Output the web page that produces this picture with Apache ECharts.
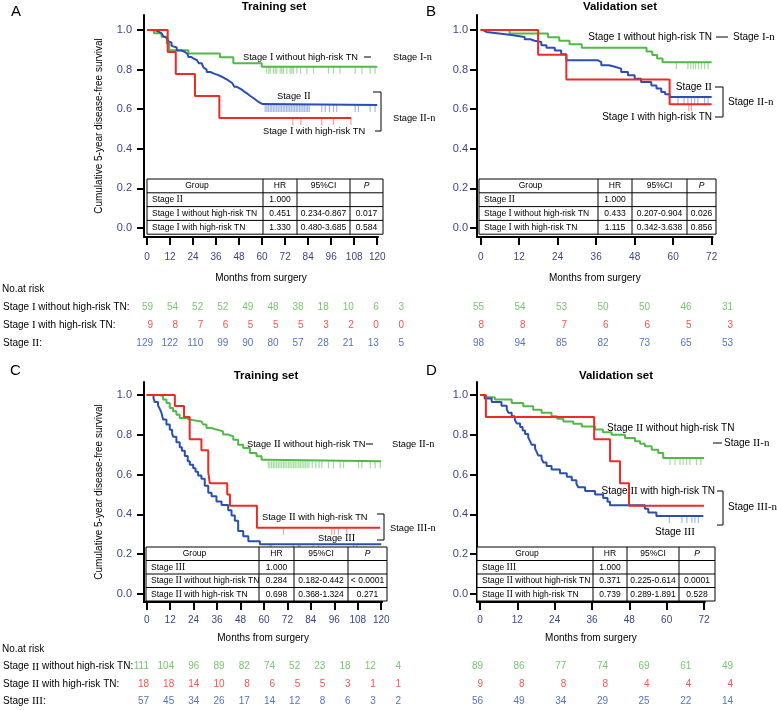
<!DOCTYPE html>
<html><head><meta charset="utf-8">
<script src="https://cdn.jsdelivr.net/npm/echarts@6/dist/echarts.min.js"></script>
<style>html,body{margin:0;padding:0;background:#fff}#c{width:777px;height:710px}</style>
</head><body><div id="c"></div>
<script>
const FONT = 'Liberation Sans, Arial, sans-serif';
const SERIF = 'Liberation Serif, Times New Roman, serif';
const GREEN = '#52b848', RED = '#ee2a24', BLUE = '#2b4fae';
const GREEN_L = '#8fd486', RED_L = '#f58a86', BLUE_L = '#8fa6de';
const AXIS_C = '#38458a';

// ---------- shared labels ----------
const titles = ['Training set', 'Validation set', 'Training set', 'Validation set'];
const letters = ['A', 'B', 'C', 'D'];
const ticksLong = [0, 12, 24, 36, 48, 60, 72, 84, 96, 108, 120];
const ticksShort = [0, 12, 24, 36, 48, 60, 72];
const yTicks = [0, 0.2, 0.4, 0.6, 0.8, 1.0];
const yTitle = 'Cumulative 5-year disease-free survival';
const xTitle = 'Months from surgery';

// ---------- Panel A (training, stage I/II) ----------
const A_green = [[0,1],[3.6,0.983],[7.6,0.966],[10.3,0.932],[11.6,0.898],[21.6,0.881],[38,0.863],[45,0.832],[59.8,0.815],[120,0.815]];
const A_red = [[0,1],[10.8,0.889],[15,0.778],[25,0.667],[37.7,0.556],[106.3,0.556]];
const A_blue = [[0,1],[4,0.992],[6,0.984],[7.5,0.976],[8.5,0.968],[9.5,0.96],[10.3,0.952],[11,0.944],[12,0.936],[12.8,0.92],[13.7,0.912],[15.5,0.897],[18,0.889],[19.8,0.88],[21,0.872],[21.6,0.864],[23,0.856],[24.2,0.848],[26,0.84],[27,0.832],[28.5,0.824],[29.5,0.81],[30.3,0.8],[31.1,0.788],[33,0.78],[35,0.772],[37.2,0.764],[39,0.756],[40.5,0.748],[42,0.74],[43.2,0.731],[44.5,0.722],[45.5,0.713],[46.8,0.704],[48.5,0.695],[50,0.686],[51.1,0.677],[52.5,0.668],[53.7,0.659],[55,0.65],[56.3,0.641],[57.5,0.632],[59,0.626],[60.3,0.621],[120,0.621]];
const A_greenCens = [62.4,63.5,64.2,65.9,66.8,67.6,69.4,70.3,71.1,72.9,74.6,75.5,76.3,78.1,80,83.3,86.8,94.6,97.2,100.6,108.5,112,116.3,118.9];
const A_redCens = [76,80.2,91.1,97.2,106.3];
const A_blueCens = [61.6,62.5,63.3,64.2,65,65.9,66.7,67.6,68.4,69.3,70.1,71,71.8,72.7,73.5,74.4,75.2,76.1,76.9,77.8,78.6,79.5,80.3,81.2,82,82.9,83.7,84.6,91.1,92.9,95.1,97.2,98.9,108.5,110.2,116.3,118.9];
const A_riskGreen = [59,54,52,52,49,48,38,18,10,6,3];
const A_riskRed = [9,8,7,6,5,5,5,3,2,0,0];
const A_riskBlue = [129,122,110,99,90,80,57,28,21,13,5];
const A_rowNames = ['Stage I without high-risk TN:', 'Stage I with high-risk TN:', 'Stage II:'];
const A_table = [['Group','HR','95%CI','P'],['Stage II','1.000','',''],['Stage I without high-risk TN','0.451','0.234-0.867','0.017'],['Stage I with high-risk TN','1.330','0.480-3.685','0.584']];

// ---------- Panel B (validation, stage I/II) ----------
const B_green = [[0,1],[9,0.982],[21,0.964],[24.5,0.946],[27.7,0.928],[31.5,0.91],[51.7,0.892],[53.5,0.874],[55,0.856],[56.7,0.837],[72,0.837]];
const B_red = [[0,1],[17.9,0.875],[26.7,0.75],[58.9,0.625],[72,0.625]];
const B_blue = [[0,1],[0.7,0.99],[1.8,0.985],[4.4,0.975],[9.6,0.965],[13.7,0.953],[15.5,0.946],[16.8,0.939],[18.9,0.923],[20.5,0.91],[23.1,0.897],[25.1,0.877],[26.7,0.847],[36.6,0.838],[37.6,0.822],[40,0.814],[41.8,0.805],[43.8,0.788],[45.9,0.771],[48,0.754],[50,0.737],[53.2,0.72],[54.8,0.704],[56.3,0.687],[57.5,0.675],[58.9,0.662],[72,0.662]];
const B_greenCens = [61,64.6,65.5,66.3,67,67.9,68.8,69.8,70.9];
const B_redCens = [64.9,65.7];
const B_blueCens = [61.5,63.4,64.6,65.7,66.7,67.7,69.8,70.9];
const B_riskGreen = [55,54,53,50,50,46,31];
const B_riskRed = [8,8,7,6,6,5,3];
const B_riskBlue = [98,94,85,82,73,65,53];
const B_table = [['Group','HR','95%CI','P'],['Stage II','1.000','',''],['Stage I without high-risk TN','0.433','0.207-0.904','0.026'],['Stage I with high-risk TN','1.115','0.342-3.638','0.856']];

// ---------- Panel C (training, stage II/III) ----------
const C_green = [[0,1],[6.7,0.993],[8.4,0.977],[10.1,0.96],[11.8,0.935],[13.5,0.918],[15.2,0.901],[16.9,0.884],[20.3,0.876],[22.1,0.867],[28,0.862],[28.9,0.851],[30.6,0.834],[33.2,0.826],[35.7,0.817],[39.1,0.801],[41.7,0.792],[44.3,0.775],[46.8,0.75],[49.4,0.733],[52.8,0.708],[56.2,0.692],[58.8,0.675],[61.4,0.667],[120,0.667]];
const C_red = [[0,1],[14.4,0.944],[19.1,0.889],[22,0.778],[28,0.722],[31.5,0.611],[32.3,0.556],[41.2,0.5],[42.6,0.444],[56.4,0.333],[119.5,0.333]];
const C_blue = [[0,1],[3.5,0.982],[4.1,0.965],[5.8,0.947],[6.7,0.93],[7.5,0.912],[8.4,0.877],[10.1,0.851],[11.8,0.825],[13,0.807],[13.5,0.79],[15.2,0.763],[16.9,0.737],[18,0.72],[19.5,0.693],[21,0.667],[22.1,0.649],[23.8,0.632],[25,0.614],[26.3,0.596],[28,0.579],[29.7,0.544],[31.5,0.509],[33.2,0.491],[35.7,0.465],[38.3,0.447],[41.7,0.421],[43.4,0.395],[45.1,0.368],[46.8,0.316],[49.4,0.29],[52,0.265],[57.9,0.25],[120,0.25]];
const C_greenCens = [62.2,63,63.9,64.8,65.6,66.5,67.4,68.2,69.1,70,70.8,71.7,72.6,73.4,74.3,75.2,76,76.9,77.8,78.6,79.5,80.4,81.2,82.1,83,84.7,86.5,88.2,89.6,93,95.6,99,100.7,108.4,110.1,114.4,116.9,119.5];
const C_redCens = [70,94.7,96,98.1,102.4];
const C_blueCens = [63.1,63.9,75,77.6,78.5,85.3,87.9,105.8,107.5];
const C_riskGreen = [111,104,96,89,82,74,52,23,18,12,4];
const C_riskRed = [18,18,14,10,8,6,5,5,3,1,1];
const C_riskBlue = [57,45,34,26,17,14,12,8,6,3,2];
const C_rowNames = ['Stage II without high-risk TN:', 'Stage II with high-risk TN:', 'Stage III:'];
const C_table = [['Group','HR','95%CI','P'],['Stage III','1.000','',''],['Stage II without high-risk TN','0.284','0.182-0.442','< 0.0001'],['Stage II with high-risk TN','0.698','0.368-1.324','0.271']];

// ---------- Panel D (validation, stage II/III) ----------
const D_green = [[0,1],[1.5,0.989],[4.8,0.977],[10.2,0.96],[13.9,0.943],[17.1,0.926],[19.8,0.91],[23,0.893],[24.8,0.88],[26.8,0.867],[30,0.855],[32.7,0.842],[37,0.826],[39.5,0.813],[42.3,0.8],[46.6,0.784],[49.8,0.767],[51.5,0.755],[53,0.742],[55.2,0.725],[57.3,0.708],[58.9,0.683],[72,0.683]];
const D_red = [[0,1],[1.9,0.889],[36.7,0.778],[41.8,0.667],[45,0.556],[47.9,0.444],[72,0.444]];
const D_blue = [[0,1],[1.5,0.982],[3.75,0.964],[6.9,0.946],[8.6,0.929],[9.1,0.911],[10.2,0.893],[11.2,0.875],[11.8,0.857],[12.9,0.839],[13.7,0.821],[14.5,0.804],[15.5,0.786],[16.1,0.768],[16.6,0.75],[17.7,0.732],[18.2,0.714],[18.7,0.696],[19.8,0.679],[20.4,0.661],[21.4,0.643],[23,0.625],[25.7,0.607],[27.9,0.589],[29.5,0.571],[31,0.554],[31.6,0.536],[33.8,0.518],[37,0.5],[39.6,0.482],[41,0.464],[41.8,0.446],[53,0.428],[54.1,0.41],[56.7,0.392],[71.8,0.392]];
const D_greenCens = [61.1,62.7,64.3,65.3,66.4,67.5,69.6,71];
const D_redCens = [];
const D_blueCens = [60.9,64.9,66.5,68.1,69.1,70.2];
const D_riskGreen = [89,86,77,74,69,61,49];
const D_riskRed = [9,8,8,8,4,4,4];
const D_riskBlue = [56,49,34,29,25,22,14];
const D_table = [['Group','HR','95%CI','P'],['Stage III','1.000','',''],['Stage II without high-risk TN','0.371','0.225-0.614','0.0001'],['Stage II with high-risk TN','0.739','0.289-1.891','0.528']];

// ---------- layout ----------
const panels = [
  {grid:{left:144,top:15,width:234,height:222}, xr:[-1.56,120.4], yr:[-0.0455,1.0758], ticks:ticksLong, yName:true, yLabMargin:12, xLabMargin:15, xNameGap:36,
   risk:{left:152,top:298,width:252,height:54}, rowNames:A_rowNames,
   curves:[[A_green,GREEN,A_greenCens,GREEN_L],[A_blue,BLUE,A_blueCens,BLUE_L],[A_red,RED,A_redCens,RED_L]],
   riskRows:[A_riskGreen,A_riskRed,A_riskBlue]},
  {grid:{left:477,top:15,width:235.6,height:222}, xr:[-1.15,72.3], yr:[-0.0455,1.0758], ticks:ticksShort, yName:false, yLabMargin:9, xLabMargin:15, xNameGap:36,
   risk:{left:484,top:298,width:249,height:54}, rowNames:null,
   curves:[[B_green,GREEN,B_greenCens,GREEN_L],[B_blue,BLUE,B_blueCens,BLUE_L],[B_red,RED,B_redCens,RED_L]],
   riskRows:[B_riskGreen,B_riskRed,B_riskBlue]},
  {grid:{left:144,top:382,width:238.2,height:220}, xr:[-1.38,120.5], yr:[-0.04,1.065], ticks:ticksLong, yName:true, yLabMargin:12, xLabMargin:13, xNameGap:31,
   risk:{left:148,top:658,width:253,height:54}, rowNames:C_rowNames,
   curves:[[C_green,GREEN,C_greenCens,GREEN_L],[C_blue,BLUE,C_blueCens,BLUE_L],[C_red,RED,C_redCens,RED_L]],
   riskRows:[C_riskGreen,C_riskRed,C_riskBlue]},
  {grid:{left:477,top:382,width:227.9,height:220}, xr:[-0.96,72.3], yr:[-0.04,1.065], ticks:ticksShort, yName:false, yLabMargin:9, xLabMargin:13, xNameGap:31,
   risk:{left:483,top:658,width:250,height:54}, rowNames:null,
   curves:[[D_green,GREEN,D_greenCens,GREEN_L],[D_blue,BLUE,D_blueCens,BLUE_L],[D_red,RED,D_redCens,RED_L]],
   riskRows:[D_riskGreen,D_riskRed,D_riskBlue]}
];
const riskColors = [GREEN, RED, BLUE];

function R(s){ return String(s).replace(/Stage (I{1,3})(-n)?/g, (m,a,b)=>'Stage {r|'+a+(b||'')+'}'); }
function stepVal(curve, t){ let v = curve[0][1]; for (const p of curve){ if (p[0] <= t) v = p[1]; } return v; }

const grids = [], xAxes = [], yAxes = [], series = [];
panels.forEach((p, i) => {
  grids.push(Object.assign({containLabel:false}, p.grid));
  xAxes.push({gridIndex:i, type:'value', min:p.xr[0], max:p.xr[1],
    axisLine:{show:true,onZero:false,lineStyle:{color:'#000',width:2}},
    axisTick:{show:true,length:8,customValues:p.ticks,lineStyle:{color:'#000',width:2}},
    axisLabel:{customValues:p.ticks,color:AXIS_C,fontSize:10,margin:p.xLabMargin,fontFamily:FONT},
    splitLine:{show:false},
    name:xTitle, nameLocation:'middle', nameGap:p.xNameGap, nameTextStyle:{color:'#000',fontSize:10,fontFamily:FONT}});
  yAxes.push({gridIndex:i, type:'value', min:p.yr[0], max:p.yr[1],
    axisLine:{show:true,onZero:false,lineStyle:{color:'#000',width:2}},
    axisTick:{show:true,length:7,customValues:yTicks,lineStyle:{color:'#000',width:2}},
    axisLabel:{customValues:yTicks,formatter:v=>Number(v).toFixed(1),color:AXIS_C,fontSize:11,margin:p.yLabMargin,fontFamily:FONT},
    splitLine:{show:false},
    name:p.yName?yTitle:'', nameLocation:'middle', nameRotate:90, nameGap:40, nameTextStyle:{color:'#000',fontSize:10,fontFamily:FONT}});
  p.curves.forEach(([curve,color,cens,lc]) => {
    series.push({type:'line', xAxisIndex:i, yAxisIndex:i, data:curve, step:'end', showSymbol:false, symbol:'none', lineStyle:{color:color,width:2}, z:3, silent:true});
    if (cens.length) series.push({type:'scatter', xAxisIndex:i, yAxisIndex:i, data:cens.map(t=>[t, stepVal(curve,t)]), symbol:'rect', symbolSize:[1.2,7], symbolOffset:[0,3.5], itemStyle:{color:lc}, z:2, silent:true});
  });
});
// risk tables (hidden axes)
panels.forEach((p, i) => {
  const gi = i + 4;
  const n = p.riskRows[0].length;
  grids.push(Object.assign({containLabel:false}, p.risk));
  xAxes.push({gridIndex:gi, type:'value', min:0, max:n-1, show:false});
  yAxes.push({gridIndex:gi, type:'category', inverse:true, data:p.rowNames || ['r0','r1','r2'],
    axisLine:{show:false}, axisTick:{show:false}, splitLine:{show:false},
    axisLabel:{show:!!p.rowNames, align:'left', margin:p.risk.left-2, color:'#000', fontSize:10, fontFamily:FONT,
      formatter:v=>R(v), rich:{r:{fontFamily:SERIF,fontSize:11,color:'#000'}}}});
  p.riskRows.forEach((row, ri) => {
    series.push({type:'scatter', xAxisIndex:gi, yAxisIndex:gi, symbolSize:1, itemStyle:{color:'rgba(0,0,0,0)'}, silent:true,
      data:row.map((v,k)=>[k, ri, v]),
      label:{show:true, position:'inside', align:'right', verticalAlign:'middle', formatter:q=>String(q.value[2]), color:riskColors[ri], fontSize:10, fontFamily:FONT}});
  });
});

// ---------- graphic (titles, annotations, HR tables) ----------
const G = [];
function txt(x, y, s, o){
  o = o || {}; const fs = o.fs || 10; const col = o.color || '#000';
  G.push({type:'text', x:x, y:y, z:20, silent:true, style:{text:R(s), fontSize:fs, fontFamily:FONT,
    fontWeight:o.bold?'bold':'normal', fontStyle:o.italic?'italic':'normal', fill:col,
    align:o.align||'left', verticalAlign:'middle', rich:{r:{fontFamily:SERIF, fontSize:fs+1, fill:col}}}});
}
function pl(points){ G.push({type:'polyline', z:20, silent:true, shape:{points:points}, style:{stroke:'#000', lineWidth:1, fill:null}}); }
function table(cols, y0, rh, rows, fs){
  const x0 = cols[0], x1 = cols[4], h = rh*4;
  G.push({type:'rect', z:15, silent:true, shape:{x:x0,y:y0,width:x1-x0,height:h}, style:{fill:'#fff', stroke:'#000', lineWidth:1}});
  for (let r = 1; r < 4; r++) G.push({type:'line', z:16, silent:true, shape:{x1:x0,y1:y0+r*rh,x2:x1,y2:y0+r*rh}, style:{stroke:'#000',lineWidth:1}});
  for (let c = 1; c < 4; c++) G.push({type:'line', z:16, silent:true, shape:{x1:cols[c],y1:y0,x2:cols[c],y2:y0+h}, style:{stroke:'#000',lineWidth:1}});
  rows.forEach((row, ri) => row.forEach((cell, ci) => {
    if (!cell) return;
    const cy = y0 + rh*ri + rh/2;
    let x, al;
    if (ci === 0) { if (ri === 0) { x = (cols[0]+cols[1])/2 - 8; al = 'center'; } else { x = cols[0] + 5; al = 'left'; } }
    else { x = (cols[ci]+cols[ci+1])/2; al = 'center'; }
    txt(x, cy, cell, {fs:fs, align:al, italic:(ri===0 && ci===3)});
  }));
}
// titles and letters
txt(274, 7, titles[0], {fs:11.5, bold:true, align:'center'});
txt(620, 7, titles[1], {fs:11.5, bold:true, align:'center'});
txt(266, 376, titles[2], {fs:11.5, bold:true, align:'center'});
txt(616, 376, titles[3], {fs:11.5, bold:true, align:'center'});
txt(11, 12, letters[0], {fs:15}); txt(426, 12, letters[1], {fs:15});
txt(10, 371, letters[2], {fs:15}); txt(426, 371, letters[3], {fs:15});
txt(2, 289, 'No.at risk'); txt(2, 649, 'No.at risk');
// tables
table([147,263,297,350,383], 179, 13.8, A_table, 8.5);
table([479,598,632,687,716], 179, 13.8, B_table, 8.5);
table([146,259,294,348,387], 547, 13.5, C_table, 8.5);
table([477,593,627,679,715], 547, 13.5, D_table, 8.5);
const AF = {fs:9.3};
// annotations A
txt(243, 57, 'Stage I without high-risk TN', AF); pl([[364,57],[371,57]]); txt(393, 57, 'Stage I-n', AF);
txt(277, 96, 'Stage II', AF); txt(263, 131, 'Stage I with high-risk TN', AF);
pl([[373,92],[381,92],[381,131],[375,131]]); txt(393, 118, 'Stage II-n', AF);
// annotations B
txt(712, 37, 'Stage I without high-risk TN', {align:'right'}); pl([[716,37],[728,37]]); txt(733, 37, 'Stage I-n');
txt(712, 87, 'Stage II', {align:'right'}); txt(712, 117, 'Stage I with high-risk TN', {align:'right'});
pl([[715,87],[723,87],[723,117],[715,117]]); txt(728, 102, 'Stage II-n');
// annotations C
txt(247, 444, 'Stage II without high-risk TN', AF); pl([[366,444],[373,444]]); txt(392, 444, 'Stage II-n', AF);
txt(262, 517, 'Stage II with high-risk TN', AF); txt(318, 538, 'Stage III', AF);
pl([[377,514],[384,514],[384,540],[377,540]]); txt(390, 528, 'Stage III-n', AF);
// annotations D
txt(607, 428, 'Stage II without high-risk TN'); pl([[713,443],[722,443]]); txt(724, 443, 'Stage II-n');
txt(715, 491, 'Stage II with high-risk TN', {align:'right'}); txt(655, 532, 'Stage III');
pl([[717,491],[723,491],[723,525],[717,525]]); txt(728, 507, 'Stage III-n');

const chart = echarts.init(document.getElementById('c'), null, {renderer:'canvas'});
chart.setOption({
  animation:false, backgroundColor:'#fff', textStyle:{fontFamily:FONT},
  grid:grids, xAxis:xAxes, yAxis:yAxes, series:series,
  graphic:{elements:G}
});
</script></body></html>
